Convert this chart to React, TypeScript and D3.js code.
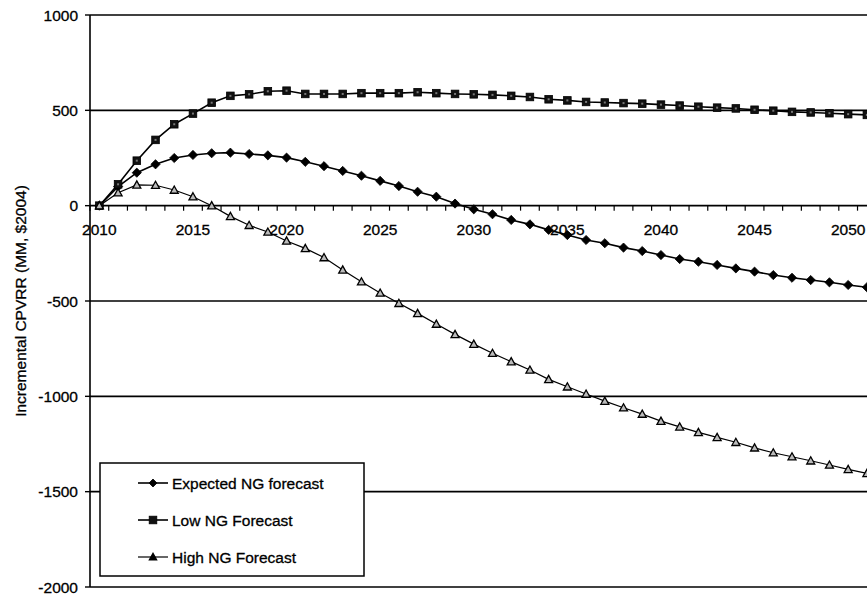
import React from "react";
import * as d3 from "d3";

const years: number[] = [
  2010, 2011, 2012, 2013, 2014, 2015, 2016, 2017, 2018, 2019,
  2020, 2021, 2022, 2023, 2024, 2025, 2026, 2027, 2028, 2029,
  2030, 2031, 2032, 2033, 2034, 2035, 2036, 2037, 2038, 2039,
  2040, 2041, 2042, 2043, 2044, 2045, 2046, 2047, 2048, 2049,
  2050, 2051,
];

const expected: number[] = [
  0, 100, 173, 217, 250, 266, 275, 278, 271, 264,
  252, 230, 207, 182, 157, 130, 103, 73, 47, 11,
  -19, -45, -75, -98, -127, -154, -180, -197, -220, -238,
  -259, -280, -294, -311, -329, -346, -364, -378, -390, -402,
  -416, -428,
];

const lowNG: number[] = [
  0, 112, 236, 345, 427, 483, 540, 576, 584, 600,
  603, 586, 586, 586, 590, 590, 590, 595, 590, 586,
  584, 581, 576, 570, 558, 552, 544, 541, 538, 535,
  530, 525, 519, 514, 510, 503, 498, 492, 489, 485,
  480, 476,
];

const highNG: number[] = [
  0, 68, 109, 107, 82, 47, 0, -56, -103, -138,
  -185, -224, -272, -337, -399, -458, -512, -565, -621, -675,
  -726, -774, -818, -862, -911, -950, -988, -1025, -1060, -1093,
  -1130, -1160, -1189, -1215, -1241, -1270, -1296, -1317, -1338, -1360,
  -1383, -1404,
];

const yTicks: number[] = [1000, 500, 0, -500, -1000, -1500, -2000];
const xLabelYears: number[] = [2010, 2015, 2020, 2025, 2030, 2035, 2040, 2045, 2050];
const seriesNames: string[] = ["Expected NG forecast", "Low NG Forecast", "High NG Forecast"];
const yTitle = "Incremental CPVRR (MM, $2004)";

const W = 867;
const H = 596;
const left = 90;
const step = 18.72;
const FONT = "'Liberation Sans', Arial, Helvetica, sans-serif";

function Marker({ kind, x, y, legend }: { kind: string; x: number; y: number; legend?: boolean }) {
  if (kind === "diamond") {
    const s = legend ? 4 : 4.6;
    return (
      <path
        d={`M${x},${y - s}L${x + s},${y}L${x},${y + s}L${x - s},${y}Z`}
        fill="#000"
        stroke="#000"
        strokeWidth={0.8}
      />
    );
  }
  if (kind === "square") {
    const s = 3.8;
    return (
      <g>
        <rect x={x - s} y={y - s} width={2 * s} height={2 * s} fill="#111" stroke="#000" strokeWidth={0.8} />
        {!legend && <rect x={x - 1} y={y - 1} width={2} height={2} fill="#777" />}
      </g>
    );
  }
  const s = legend ? 3.6 : 4;
  return (
    <path
      d={`M${x},${y - s}L${x + s},${y + s * 0.8}L${x - s},${y + s * 0.8}Z`}
      fill={legend ? "#000" : "#bbb"}
      stroke="#000"
      strokeWidth={1.3}
    />
  );
}

export default function App() {
  const x = d3
    .scaleBand<number>()
    .domain(years)
    .range([left, left + step * years.length])
    .padding(0);
  const cx = (yr: number) => (x(yr) as number) + x.bandwidth() / 2;
  const y = d3.scaleLinear().domain([-2000, 1000]).range([587, 15]);

  const series = [
    { name: seriesNames[0], values: expected, kind: "diamond", width: 1.6 },
    { name: seriesNames[1], values: lowNG, kind: "square", width: 1.6 },
    { name: seriesNames[2], values: highNG, kind: "triangle", width: 1.2 },
  ];

  const line = d3
    .line<number>()
    .x((_, i) => cx(years[i]))
    .y((v) => y(v));

  const boundaries = d3.range(years.length + 1).map((i) => left + i * step);
  const textStyle = { stroke: "#000", strokeWidth: 0.3 };

  return (
    <svg
      width={W}
      height={H}
      style={{ position: "absolute", left: 0, top: 0, display: "block", background: "#fff" }}
      fontFamily={FONT}
    >
      <defs>
        <clipPath id="plotclip">
          <rect x={left - 6} y={0} width={W - left + 6} height={H} />
        </clipPath>
      </defs>
      <rect x={0} y={0} width={W} height={H} fill="#fff" />

      {/* gridlines */}
      {yTicks
        .filter((t) => t !== 0)
        .map((t) => (
          <line key={t} x1={left} x2={W} y1={y(t)} y2={y(t)} stroke="#000" strokeWidth={1.6} />
        ))}

      {/* y axis */}
      <line x1={left} x2={left} y1={y(1000)} y2={y(-2000)} stroke="#000" strokeWidth={1.6} />
      {yTicks.map((t) => (
        <g key={"yt" + t}>
          <line x1={left - 5} x2={left} y1={y(t)} y2={y(t)} stroke="#000" strokeWidth={1.4} />
          <text x={78} y={y(t)} dy="0.36em" textAnchor="end" fontSize={15.5} fill="#000" style={textStyle}>
            {t}
          </text>
        </g>
      ))}

      {/* x axis at zero */}
      <line x1={left} x2={W} y1={y(0)} y2={y(0)} stroke="#000" strokeWidth={1.6} />
      {boundaries.map((bx, i) => (
        <line key={"xt" + i} x1={bx} x2={bx} y1={y(0)} y2={y(0) + 5} stroke="#000" strokeWidth={1.2} />
      ))}
      {xLabelYears.map((yr) => (
        <text key={"xl" + yr} x={cx(yr)} y={y(0) + 29} textAnchor="middle" fontSize={15.5} fill="#000" style={textStyle}>
          {yr}
        </text>
      ))}

      {/* y title */}
      <text
        transform={`translate(26,${(y(1000) + y(-2000)) / 2}) rotate(-90)`}
        textAnchor="middle"
        fontSize={15.5}
        fill="#000"
        style={textStyle}
      >
        {yTitle}
      </text>

      {/* series */}
      <g clipPath="url(#plotclip)">
        {series.map((s) => (
          <path key={s.name} d={line(s.values) || ""} fill="none" stroke="#000" strokeWidth={s.width} />
        ))}
        {series.map((s) =>
          s.values.map((v, i) => <Marker key={s.name + i} kind={s.kind} x={cx(years[i])} y={y(v)} />)
        )}
      </g>

      {/* legend */}
      <rect x={100} y={463} width={264} height={113} fill="#fff" stroke="#000" strokeWidth={1.5} />
      {series.map((s, i) => {
        const ly = 483 + i * 37;
        return (
          <g key={"lg" + i}>
            <line x1={138} x2={168} y1={ly} y2={ly} stroke="#000" strokeWidth={s.width} />
            <Marker kind={s.kind} x={153} y={ly} legend />
            <text x={172} y={ly} dy="0.36em" fontSize={15.5} fill="#000" style={textStyle}>
              {s.name}
            </text>
          </g>
        );
      })}
    </svg>
  );
}
